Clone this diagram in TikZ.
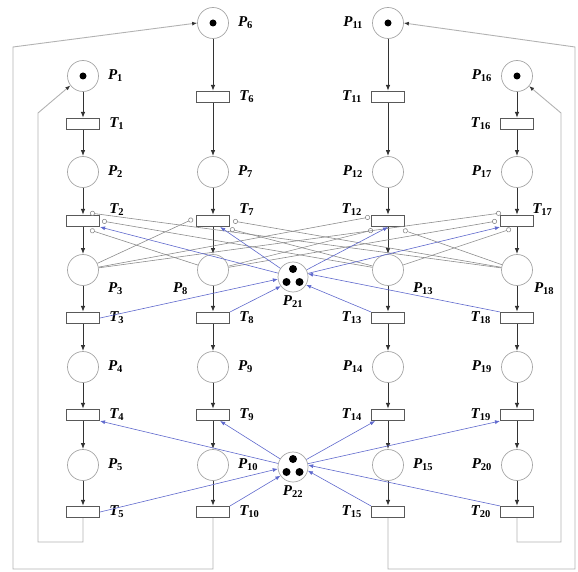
\documentclass[tikz,border=0pt]{standalone}
\usepackage{fontspec}
\setmainfont{Liberation Serif}
\usetikzlibrary{arrows.meta}

\definecolor{resblue}{RGB}{95,105,205}
\newcommand{\plab}[1]{\textit{P}\textsubscript{\upshape #1}}
\newcommand{\tlab}[1]{\textit{T}\textsubscript{\upshape #1}}

\begin{document}
\begin{tikzpicture}
  [x=1pt,y=-1pt,label distance=8pt,
   place/.style={circle,draw=black!35,line width=.7pt,fill=white,minimum size=31pt,inner sep=0pt},
   trans/.style={rectangle,draw=black!65,line width=1.1pt,fill=white,minimum width=33pt,minimum height=11pt,inner sep=0pt},
   lbl/.style={font=\fontsize{15}{17}\selectfont\bfseries\itshape,inner sep=1pt},
   arc/.style={draw=black!80,line width=1pt,-{Latex[length=6pt,width=4.5pt]}},
   res/.style={draw=resblue,line width=.6pt,-{Latex[length=5pt,width=4pt]}},
   inh/.style={draw=black!45,line width=.6pt,-{Circle[open,length=5pt,width=5pt]}},
   back/.style={draw=black!30,line width=.9pt,-{Latex[length=5pt,width=4pt,color=black!80]}}]
  \useasboundingbox (0,0) rectangle (578,572);

  % column 1
  \node[place,label={[lbl]right:\plab{1}}] (P1) at (83,76) {};
  \node[trans,label={[lbl]right:\tlab{1}}] (T1) at (83,124) {};
  \node[place,label={[lbl]right:\plab{2}}] (P2) at (83,172) {};
  \node[trans,label={[lbl,yshift=11pt]right:\tlab{2}}] (T2) at (83,221) {};
  \node[place,label={[lbl,yshift=-19pt]right:\plab{3}}] (P3) at (83,270) {};
  \node[trans,label={[lbl]right:\tlab{3}}] (T3) at (83,318) {};
  \node[place,label={[lbl]right:\plab{4}}] (P4) at (83,367) {};
  \node[trans,label={[lbl]right:\tlab{4}}] (T4) at (83,415) {};
  \node[place,label={[lbl]right:\plab{5}}] (P5) at (83,465) {};
  \node[trans,label={[lbl]right:\tlab{5}}] (T5) at (83,512) {};

  % column 2
  \node[place,label={[lbl]right:\plab{6}}] (P6) at (213,23) {};
  \node[trans,label={[lbl]right:\tlab{6}}] (T6) at (213,97) {};
  \node[place,label={[lbl]right:\plab{7}}] (P7) at (213,172) {};
  \node[trans,label={[lbl,yshift=11pt]right:\tlab{7}}] (T7) at (213,221) {};
  \node[place,label={[lbl,yshift=-19pt]left:\plab{8}}] (P8) at (213,270) {};
  \node[trans,label={[lbl]right:\tlab{8}}] (T8) at (213,318) {};
  \node[place,label={[lbl]right:\plab{9}}] (P9) at (213,367) {};
  \node[trans,label={[lbl]right:\tlab{9}}] (T9) at (213,415) {};
  \node[place,label={[lbl]right:\plab{10}}] (P10) at (213,465) {};
  \node[trans,label={[lbl]right:\tlab{10}}] (T10) at (213,512) {};

  % column 3
  \node[place,label={[lbl]left:\plab{11}}] (P11) at (388,23) {};
  \node[trans,label={[lbl]left:\tlab{11}}] (T11) at (388,97) {};
  \node[place,label={[lbl]left:\plab{12}}] (P12) at (388,172) {};
  \node[trans,label={[lbl,yshift=11pt]left:\tlab{12}}] (T12) at (388,221) {};
  \node[place,label={[lbl,yshift=-19pt]right:\plab{13}}] (P13) at (388,270) {};
  \node[trans,label={[lbl]left:\tlab{13}}] (T13) at (388,318) {};
  \node[place,label={[lbl]left:\plab{14}}] (P14) at (388,367) {};
  \node[trans,label={[lbl]left:\tlab{14}}] (T14) at (388,415) {};
  \node[place,label={[lbl]right:\plab{15}}] (P15) at (388,465) {};
  \node[trans,label={[lbl]left:\tlab{15}}] (T15) at (388,512) {};

  % column 4
  \node[place,label={[lbl]left:\plab{16}}] (P16) at (517,76) {};
  \node[trans,label={[lbl]left:\tlab{16}}] (T16) at (517,124) {};
  \node[place,label={[lbl]left:\plab{17}}] (P17) at (517,172) {};
  \node[trans,label={[lbl,yshift=11pt,xshift=-11pt]right:\tlab{17}}] (T17) at (517,221) {};
  \node[place,label={[lbl,yshift=-19pt,xshift=-8pt]right:\plab{18}}] (P18) at (517,270) {};
  \node[trans,label={[lbl]left:\tlab{18}}] (T18) at (517,318) {};
  \node[place,label={[lbl]left:\plab{19}}] (P19) at (517,367) {};
  \node[trans,label={[lbl]left:\tlab{19}}] (T19) at (517,415) {};
  \node[place,label={[lbl]left:\plab{20}}] (P20) at (517,465) {};
  \node[trans,label={[lbl]left:\tlab{20}}] (T20) at (517,512) {};

  % shared resources
  \node[place,minimum size=30pt,label={[lbl,label distance=2pt]below:\plab{21}}] (P21) at (293,277) {};
  \node[place,minimum size=30pt,label={[lbl,label distance=2pt]below:\plab{22}}] (P22) at (293,467) {};

  % tokens
  \foreach \p in {P1,P6,P11,P16}
    \fill (\p) circle (3.5pt);
  \foreach \p in {P21,P22} {
    \fill ([yshift=8pt]\p.center) circle (4pt);
    \fill ([shift={(-6.5pt,-5pt)}]\p.center) circle (4pt);
    \fill ([shift={(6.5pt,-5pt)}]\p.center) circle (4pt);
  }

  % flow arcs
  \foreach \b in {0,5,10,15} {
    \foreach \i in {1,...,5} {
      \pgfmathtruncatemacro\k{\b+\i}
      \draw[arc] (P\k) -- (T\k);
    }
    \foreach \i in {1,...,4} {
      \pgfmathtruncatemacro\k{\b+\i}
      \pgfmathtruncatemacro\m{\k+1}
      \draw[arc] (T\k) -- (P\m);
    }
  }

  % inhibitor arcs
  \coordinate (h2a) at (90,213);  \coordinate (h2b) at (102,221); \coordinate (h2c) at (90,230);
  \coordinate (h7a) at (193,219); \coordinate (h7b) at (233,221); \coordinate (h7c) at (230,229);
  \coordinate (h12a) at (370,217); \coordinate (h12b) at (373,230); \coordinate (h12c) at (403,230);
  \coordinate (h17a) at (501,213); \coordinate (h17b) at (497,221); \coordinate (h17c) at (511,229);
  \foreach \p/\h in {P18/h2a,P13/h2b,P8/h2c,P3/h7a,P18/h7b,P13/h7c,
                     P3/h12a,P8/h12b,P18/h12c,P3/h17a,P8/h17b,P13/h17c}
    \draw[inh] (\p) -- (\h);

  % resource arcs
  \foreach \s/\t in {P21/T2.south east,P21/T7.-40,P21/T12.south,P21/T17.south west,
                     P22/T4.south east,P22/T9.-40,P22/T14.-155,P22/T19.south west,
                     T3.east/P21.188,T8.north east/P21.217,T13.north west/P21.-31,T18.north west/P21.12,
                     T5.east/P22.187,T10.north east/P22.215,T15.north west/P22.-14,T20.north west/P22.7}
    \draw[res] (\s) -- (\t);

  % return arcs
  \draw[back] (T5.south) |- (38,542) -- (38,113) -- (P1.217);
  \draw[back] (T10.south) |- (13,569) -- (13,47) -- (P6.west);
  \draw[back] (T20.south) |- (561,542) -- (561,113) -- (P16.-40);
  \draw[back] (T15.south) |- (575,569) -- (575,47) -- (P11.east);

\end{tikzpicture}
\end{document}
